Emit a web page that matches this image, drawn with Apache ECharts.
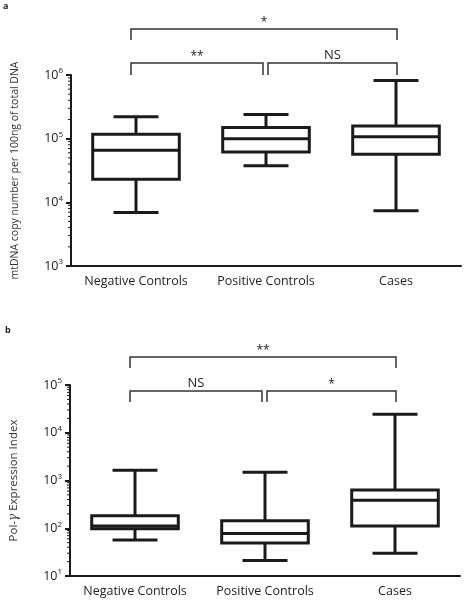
<!DOCTYPE html>
<html><head><meta charset="utf-8">
<script src="https://cdn.jsdelivr.net/npm/echarts@6/dist/echarts.min.js"></script>
<style>html,body{margin:0;padding:0;background:#fff}#c{width:468px;height:601px}</style>
</head><body><div id="c"></div>
<script>
// ---- data ----
const categories = ['Negative Controls', 'Positive Controls', 'Cases'];
// panel a: mtDNA copy number per 100ng of total DNA
const mtdnaMin    = [6900, 37600, 7400];
const mtdnaQ1     = [23000, 62000, 57000];
const mtdnaMedian = [66000, 100000, 107000];
const mtdnaQ3     = [117000, 150000, 158000];
const mtdnaMax    = [220000, 240000, 820000];
// panel b: Pol-gamma expression index
const polgMin    = [57, 21, 30];
const polgQ1     = [98, 49, 111];
const polgMedian = [111, 78, 385];
const polgQ3     = [183, 144, 631];
const polgMax    = [1630, 1480, 24300];
// axis ranges / ticks
const yMinA = 1e3, yMaxA = 1e6;
const yMinB = 1e1, yMaxB = 1e5;
const minorMultipliers = [2, 3, 4, 5, 6, 7, 8, 9];
// significance brackets
const sigAFrom = [0, 0, 1], sigATo = [2, 1, 2], sigALevel = [2, 1, 1], sigAText = ['*', '**', 'NS'];
const sigBFrom = [0, 0, 1], sigBTo = [2, 1, 2], sigBLevel = [2, 1, 1], sigBText = ['**', 'NS', '*'];

// ---- helpers ----
function boxData(mn, q1, md, q3, mx) {
  return categories.map((c, i) => [i, mn[i], q1[i], md[i], q3[i], mx[i]]);
}
function minorTicks(lo, hi) {
  const out = [];
  for (let d = lo; d < hi; d *= 10) minorMultipliers.forEach(m => out.push([0, d * m]));
  return out;
}
const FONT = '"Open Sans", "Liberation Sans", sans-serif';
const INK = '#1a1a1a';

function renderBox(params, api) {
  const i = api.value(0);
  const pMin = api.coord([i, api.value(1)]);
  const pQ1 = api.coord([i, api.value(2)]);
  const pMd = api.coord([i, api.value(3)]);
  const pQ3 = api.coord([i, api.value(4)]);
  const pMax = api.coord([i, api.value(5)]);
  const bw = api.size([1, 0])[0];
  const hb = bw * 0.333, hc = bw * 0.173;
  const x = pMd[0];
  const st = { stroke: INK, lineWidth: 3, fill: null };
  return {
    type: 'group',
    children: [
      { type: 'line', shape: { x1: x, y1: pMax[1], x2: x, y2: pQ3[1] }, style: st },
      { type: 'line', shape: { x1: x, y1: pQ1[1], x2: x, y2: pMin[1] }, style: st },
      { type: 'line', shape: { x1: x - hc, y1: pMax[1], x2: x + hc, y2: pMax[1] }, style: st },
      { type: 'line', shape: { x1: x - hc, y1: pMin[1], x2: x + hc, y2: pMin[1] }, style: st },
      { type: 'rect', shape: { x: x - hb, y: pQ3[1], width: 2 * hb, height: pQ1[1] - pQ3[1] }, style: st },
      { type: 'line', shape: { x1: x - hb, y1: pMd[1], x2: x + hb, y2: pMd[1] }, style: st }
    ]
  };
}

function makeBracketRenderer(texts, layout, yRef) {
  return function (params, api) {
    const cs = params.coordSys;
    const from = api.value(0), to = api.value(1), level = api.value(2);
    const x1 = api.coord([from, yRef])[0] + (from === 1 ? 2 : -5);
    const x2 = api.coord([to, yRef])[0] + (to === 1 ? -3 : 1);
    const yl = cs.y + (level === 2 ? layout.high : layout.low);
    const ye = cs.y + (level === 2 ? layout.highEnd : layout.lowEnd);
    const st = { stroke: '#333', lineWidth: 1.5, fill: null };
    const txt = texts[params.dataIndex];
    const isStar = txt.indexOf('*') >= 0;
    return {
      type: 'group',
      children: [
        { type: 'polyline', shape: { points: [[x1, ye], [x1, yl], [x2, yl], [x2, ye]] }, style: st },
        { type: 'text', x: (x1 + x2) / 2, y: isStar ? yl - 6 : yl - 1,
          style: { text: txt, fill: '#222', font: (isStar ? '12px ' : '13px ') + FONT,
                   textAlign: 'center', textVerticalAlign: isStar ? 'middle' : 'bottom' } }
      ]
    };
  };
}
function renderMinor(params, api) {
  const cs = params.coordSys;
  const p = api.coord([0, api.value(1)]);
  return { type: 'line', shape: { x1: cs.x - 3, y1: p[1], x2: cs.x, y2: p[1] },
           style: { stroke: INK, lineWidth: 1 } };
}

const supRich = {
  b: { fontSize: 12.5, fontFamily: FONT, color: '#222' },
  s: { fontSize: 8, fontFamily: FONT, color: '#222', padding: [0, 0, 8, 0] }
};
function yAxisCommon(min, max, name, nameRich, nameSize) {
  return {
    type: 'log', logBase: 10, min: min, max: max,
    name: name, nameLocation: 'middle', nameGap: 50,
    nameTextStyle: { fontSize: nameSize, fontFamily: FONT, color: '#333', rich: nameRich || {} },
    axisLine: { show: true, lineStyle: { color: INK, width: 2 } },
    axisTick: { show: true, length: 5, lineStyle: { color: INK, width: 2 } },
    splitLine: { show: false },
    axisLabel: {
      margin: 8,
      formatter: v => '{b|10}{s|' + Math.round(Math.log10(v)) + '}',
      rich: supRich
    }
  };
}
function xAxisCommon(idx) {
  return {
    type: 'category', gridIndex: idx, data: categories, boundaryGap: true,
    axisLine: { lineStyle: { color: INK, width: 2 } },
    axisTick: { alignWithLabel: true, interval: 0, length: 5, lineStyle: { color: INK, width: 2 } },
    axisLabel: { interval: 0, hideOverlap: false, fontSize: 12.5, fontFamily: FONT, color: '#222', margin: 9 }
  };
}

const chart = echarts.init(document.getElementById('c'), null, { renderer: 'canvas' });
chart.setOption({
  animation: false,
  backgroundColor: '#fff',
  grid: [
    { left: 71, top: 75, width: 390, height: 191 },
    { left: 70, top: 385, width: 390, height: 191 }
  ],
  xAxis: [xAxisCommon(0), xAxisCommon(1)],
  yAxis: [
    Object.assign({ gridIndex: 0 }, yAxisCommon(yMinA, yMaxA, 'mtDNA copy number per 100ng of total DNA', null, 10.5)),
    Object.assign({ gridIndex: 1 }, yAxisCommon(yMinB, yMaxB, 'Pol-{g|γ} Expression Index',
      { g: { fontSize: 12, fontStyle: 'italic', fontFamily: 'DejaVu Serif', color: '#333' } }, 11.5))
  ],
  graphic: [
    { type: 'text', left: 3, top: 2, style: { text: 'a', font: 'bold 9px ' + FONT, fill: '#222' } },
    { type: 'text', left: 5, top: 326, style: { text: 'b', font: 'bold 9px ' + FONT, fill: '#222' } }
  ],
  series: [
    { type: 'custom', xAxisIndex: 0, yAxisIndex: 0, renderItem: renderMinor, clip: false,
      data: minorTicks(yMinA, yMaxA), encode: { x: 0, y: 1 }, silent: true },
    { type: 'custom', xAxisIndex: 1, yAxisIndex: 1, renderItem: renderMinor, clip: false,
      data: minorTicks(yMinB, yMaxB), encode: { x: 0, y: 1 }, silent: true },
    { type: 'custom', xAxisIndex: 0, yAxisIndex: 0, renderItem: renderBox, clip: false,
      data: boxData(mtdnaMin, mtdnaQ1, mtdnaMedian, mtdnaQ3, mtdnaMax), encode: { x: 0, y: [1, 2, 3, 4, 5] } },
    { type: 'custom', xAxisIndex: 1, yAxisIndex: 1, renderItem: renderBox, clip: false,
      data: boxData(polgMin, polgQ1, polgMedian, polgQ3, polgMax), encode: { x: 0, y: [1, 2, 3, 4, 5] } },
    { type: 'custom', xAxisIndex: 0, yAxisIndex: 0, clip: false, silent: true,
      renderItem: makeBracketRenderer(sigAText, { low: -12, lowEnd: 0, high: -46, highEnd: -35 }, yMinA),
      data: sigAFrom.map((f, i) => [f, sigATo[i], sigALevel[i]]), encode: { x: [0, 1] } },
    { type: 'custom', xAxisIndex: 1, yAxisIndex: 1, clip: false, silent: true,
      renderItem: makeBracketRenderer(sigBText, { low: 6, lowEnd: 17, high: -28, highEnd: -17 }, yMinB),
      data: sigBFrom.map((f, i) => [f, sigBTo[i], sigBLevel[i]]), encode: { x: [0, 1] } }
  ]
});
</script>
</body></html>
